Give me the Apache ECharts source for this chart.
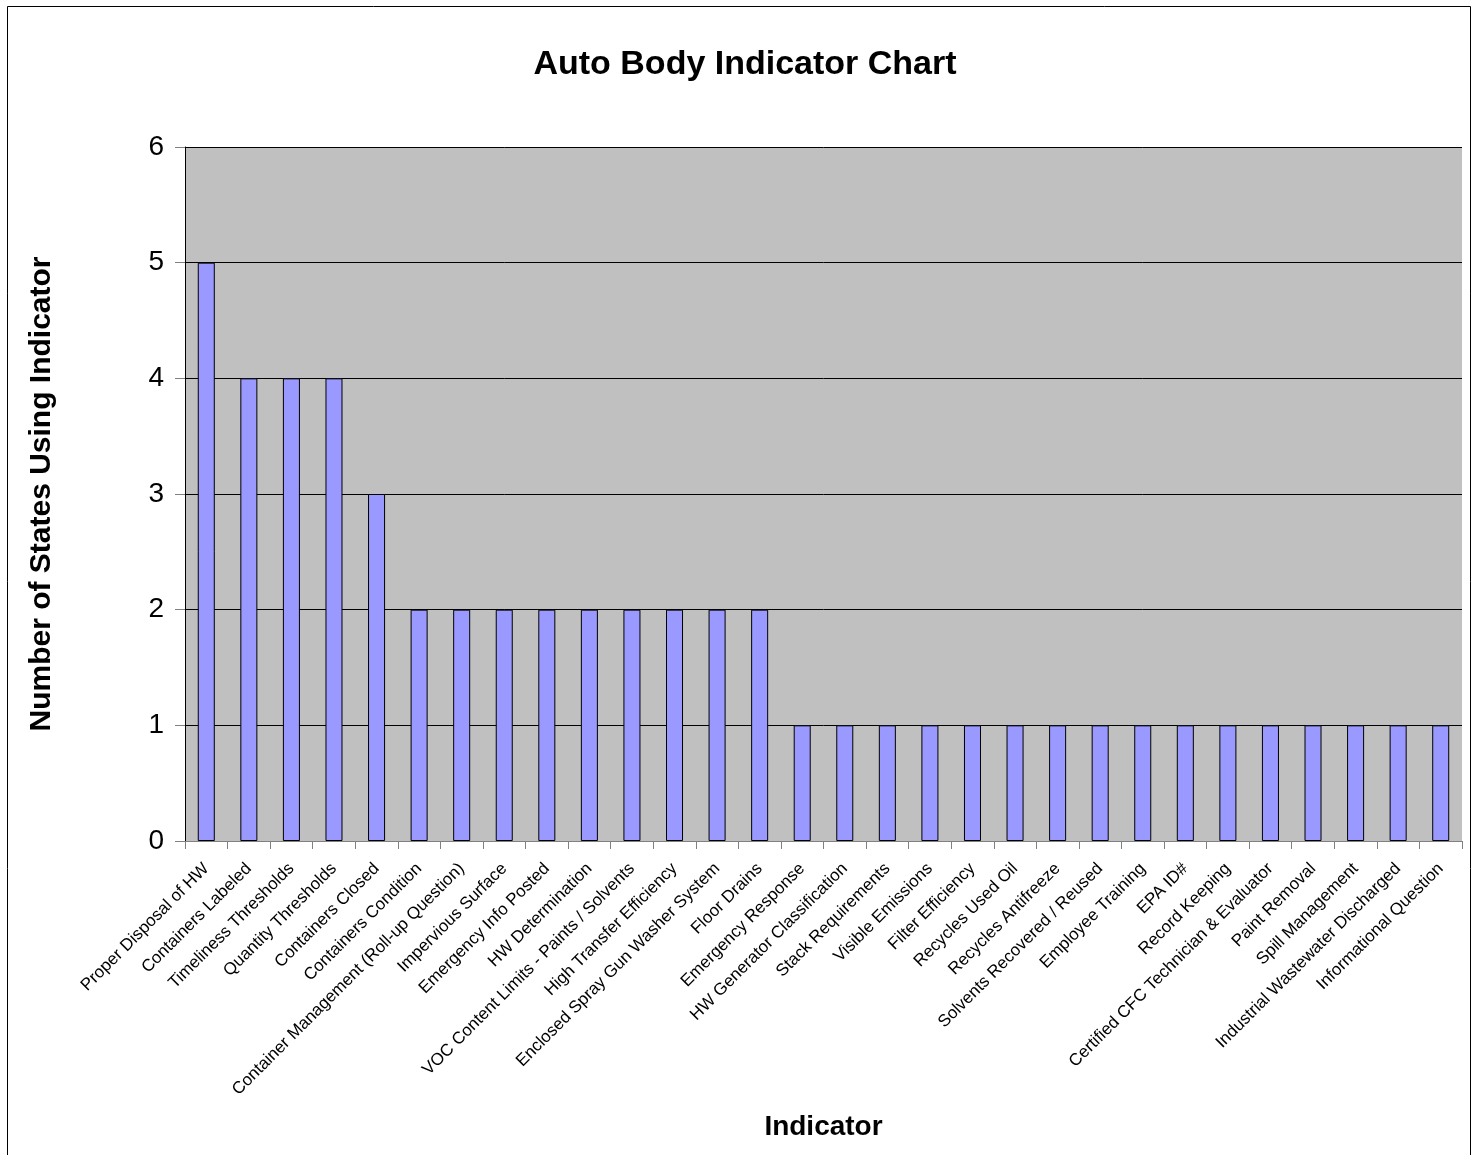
<!DOCTYPE html>
<html>
<head>
<meta charset="utf-8">
<script src="https://cdn.jsdelivr.net/npm/echarts@6/dist/echarts.min.js"></script>
<style>
html,body{margin:0;padding:0;background:#fff;}
#chart{width:1474px;height:1155px;}
</style>
</head>
<body>
<div id="chart"></div>
<script>
var categories = [
  "Proper Disposal of HW","Containers Labeled","Timeliness Thresholds","Quantity Thresholds",
  "Containers Closed","Containers Condition","Container Management (Roll-up Question)",
  "Impervious Surface","Emergency Info Posted","HW Determination",
  "VOC Content Limits - Paints / Solvents","High Transfer Efficiency",
  "Enclosed Spray Gun Washer System","Floor Drains","Emergency Response",
  "HW Generator Classification","Stack Requirements","Visible Emissions","Filter Efficiency",
  "Recycles Used Oil","Recycles Antifreeze","Solvents Recovered / Reused","Employee Training",
  "EPA ID#","Record Keeping","Certified CFC Technician & Evaluator","Paint Removal",
  "Spill Management","Industrial Wastewater Discharged","Informational Question"
];
var values = [5,4,4,4,3,2,2,2,2,2,2,2,2,2,1,1,1,1,1,1,1,1,1,1,1,1,1,1,1,1];
var yTicks = [0,1,2,3,4,5,6];

var font = "'Liberation Sans', Arial, sans-serif";
var chart = echarts.init(document.getElementById('chart'), null, {renderer:'canvas'});
chart.setOption({
  animation:false,
  backgroundColor:'#ffffff',
  graphic:[{
    type:'rect', silent:true, z:-10,
    shape:{x:7.5,y:6.5,width:1463,height:1170},
    style:{fill:'none',stroke:'#000',lineWidth:1}
  }],
  title:{
    text:'Auto Body Indicator Chart',
    left:740, top:43, textAlign:'center',
    textStyle:{fontFamily:font,fontSize:34,fontWeight:'bold',color:'#000'}
  },
  grid:{
    left:185, top:147, right:12, bottom:314,
    show:true, backgroundColor:'#C0C0C0', borderWidth:0
  },
  xAxis:{
    type:'category',
    data:categories,
    boundaryGap:true,
    name:'Indicator',
    nameLocation:'middle',
    nameGap:272,
    nameTextStyle:{fontFamily:font,fontSize:28,fontWeight:'bold',color:'#000',verticalAlign:'top'},
    axisLine:{show:true,lineStyle:{color:'#808080',width:1}},
    axisTick:{show:true,length:8,alignWithLabel:false,lineStyle:{color:'#808080'}},
    axisLabel:{interval:0,rotate:45,margin:25,fontFamily:font,fontSize:17,color:'#000'},
    splitLine:{show:false}
  },
  yAxis:{
    type:'value',
    min:yTicks[0], max:yTicks[yTicks.length-1], interval:1,
    name:'Number of States Using Indicator',
    nameLocation:'middle',
    nameGap:128,
    nameTextStyle:{fontFamily:font,fontSize:30,fontWeight:'bold',color:'#000'},
    axisLine:{show:true,lineStyle:{color:'#000',width:1}},
    axisTick:{show:true,length:10,lineStyle:{color:'#808080'}},
    axisLabel:{margin:21,fontFamily:font,fontSize:28,color:'#000'},
    splitLine:{show:true,lineStyle:{color:'#000',width:1}}
  },
  series:[{
    type:'bar',
    data:values,
    barWidth:'40%',
    itemStyle:{color:'#9999FF',borderColor:'#000',borderWidth:1}
  }]
});
</script>
</body>
</html>
